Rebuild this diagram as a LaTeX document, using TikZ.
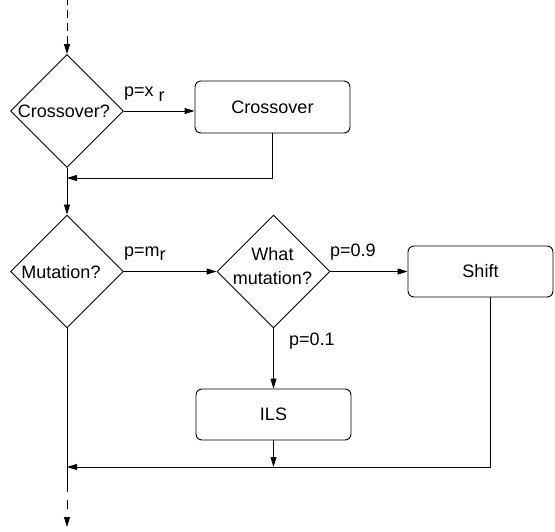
\documentclass[tikz,border=0pt]{standalone}
\usepackage{fontspec}
\setmainfont{Liberation Sans}
\usetikzlibrary{shapes.geometric,arrows.meta}
\begin{document}
\begin{tikzpicture}[x=1pt,y=-1pt,
  every node/.style={font=\fontsize{18}{24}\selectfont},
  dia/.style={draw, diamond, inner sep=0pt, minimum width=113pt, minimum height=113pt, line width=0.9pt},
  box/.style={draw, rectangle, rounded corners=6pt, inner sep=0pt, line width=0.9pt},
  txt/.style={inner sep=0pt, align=center},
  lbl/.style={inner sep=0pt, anchor=base west},
  conn/.style={line width=0.9pt, -{Triangle[length=10pt,width=6pt]}},
  plain/.style={line width=0.9pt}]
\useasboundingbox (0,0) rectangle (555,532);

% decisions
\node[dia] (cq) at (67,111) {};
\node[txt] (cqt) at (64,111) {Crossover?};
\node[dia] (mq) at (67,271.5) {};
\node[txt] (mqt) at (61,272) {Mutation?};
\node[dia] (wq) at (273.5,271.5) {};
\node[txt] (wqt) at (272.5,266) {What\\mutation?};

% processes
\node[box, minimum width=155pt, minimum height=52pt] (cb) at (272.5,107) {Crossover};
\node[box, minimum width=145pt, minimum height=51pt] (sb) at (480.5,271.5) {Shift};
\node[box, minimum width=155pt, minimum height=51pt] (ib) at (273.5,414.5) {ILS};

% junctions and free ends
\coordinate (start) at (67,0);
\coordinate (j1) at (67,178);
\coordinate (j2) at (67,467);
\coordinate (j3) at (67,492);
\coordinate (finish) at (67,527);

% connectors
\draw[conn, dash pattern=on 8pt off 5pt, dash phase=3pt] (start) -- (cq.north);
\draw[conn] (cq.east) -- (cq.east -| cb.west);
\draw[conn] (cb.south) |- (j1);
\draw[conn] (cq.south) -- (mq.north);
\draw[conn] (mq.east) -- (wq.west);
\draw[conn] (wq.east) -- (sb.west);
\draw[conn] (wq.south) -- (ib.north);
\draw[conn] (ib.south) -- (ib.south |- j2);
\draw[conn] ([xshift=9.5pt]sb.south) |- (j2);
\draw[plain] (mq.south) -- (j3);
\draw[conn, dash pattern=on 0pt off 8pt on 9pt off 30pt] (j3) -- (finish);

% labels
\node[lbl] (l1) at (124,97) {p=x \raisebox{-5pt}{r}};
\node[lbl] (l2) at (124,257) {p=m\raisebox{-4pt}{r}};
\node[lbl] (l3) at (330,257) {p=0.9};
\node[lbl] (l4) at (289,345) {p=0.1};
\end{tikzpicture}
\end{document}
